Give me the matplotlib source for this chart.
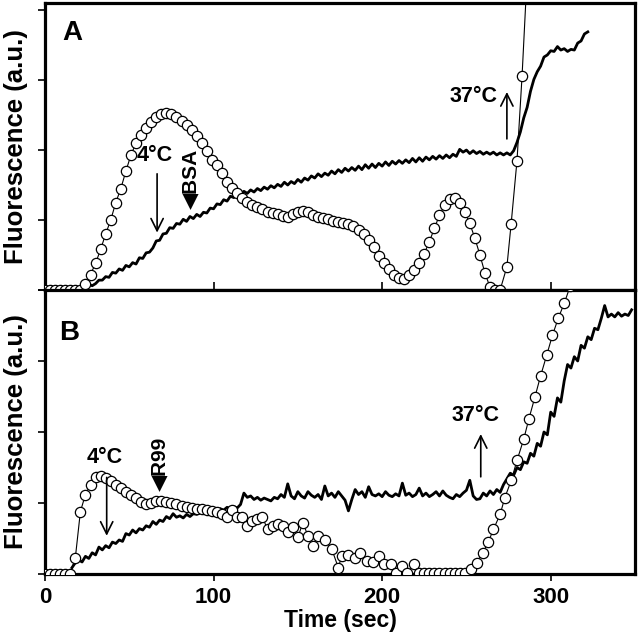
import numpy as np
import matplotlib
matplotlib.use("Agg")
import matplotlib.pyplot as plt

plt.rcParams['font.family'] = ['Liberation Sans', 'DejaVu Sans']
plt.rcParams['font.weight'] = 'bold'

# ---- panel A : open circles (time in sec, fluorescence a.u.) ----
tA_circ = [0, 3, 6, 9, 12, 15, 18, 21, 24, 27, 30, 33, 36, 39, 42, 45, 48, 51, 54, 57,
           60, 63, 66, 69, 72, 75, 78, 81, 84, 87, 90, 93, 96, 99, 102, 105, 108, 111, 114, 117,
           120, 123, 126, 129, 132, 135, 138, 141, 144, 147, 150, 153, 156, 159, 162, 165, 168, 171, 174, 177,
           180, 183, 186, 189, 192, 195, 198, 201, 204, 207, 210, 213, 216, 219, 222, 225, 228, 231, 234, 237,
           240, 243, 246, 249, 252, 255, 258, 261, 264, 267, 270, 274, 276.5, 280, 283, 286]
fA_circ = [0, 0, 0, 0, 0, 0, 0, 0, 0.08, 0.22, 0.38, 0.58, 0.80, 1.00, 1.25, 1.45, 1.70, 1.93, 2.10, 2.22,
           2.32, 2.40, 2.47, 2.51, 2.53, 2.52, 2.47, 2.41, 2.36, 2.29, 2.20, 2.10, 1.98, 1.86, 1.78, 1.67, 1.55, 1.46, 1.38, 1.31,
           1.26, 1.22, 1.18, 1.15, 1.12, 1.10, 1.08, 1.05, 1.04, 1.08, 1.12, 1.13, 1.11, 1.07, 1.04, 1.03, 1.02, 0.99, 0.97, 0.96,
           0.94, 0.91, 0.86, 0.80, 0.72, 0.61, 0.49, 0.39, 0.30, 0.21, 0.17, 0.16, 0.21, 0.28, 0.38, 0.52, 0.69, 0.88, 1.07, 1.21,
           1.30, 1.32, 1.25, 1.12, 0.95, 0.74, 0.50, 0.24, 0.04, 0.0, 0.0, 0.33, 0.94, 1.85, 3.06, 4.50]

# ---- panel A : solid trace, one reading every 2 sec starting at 20 sec ----
tA_line_start = 20
fA_line = [0.00, 0.02, 0.02, 0.08, 0.06, 0.09, 0.14, 0.14, 0.19, 0.18, 0.25, 0.24, 0.30, 0.28, 0.35, 0.33,
           0.39, 0.37, 0.46, 0.45, 0.53, 0.54, 0.60, 0.70, 0.71, 0.80, 0.81, 0.89, 0.88, 0.95, 0.94, 1.01,
           0.98, 1.05, 1.02, 1.08, 1.05, 1.11, 1.10, 1.17, 1.16, 1.23, 1.22, 1.29, 1.27, 1.34, 1.32, 1.38,
           1.36, 1.41, 1.38, 1.43, 1.40, 1.45, 1.42, 1.47, 1.44, 1.49, 1.46, 1.51, 1.48, 1.54, 1.50, 1.55,
           1.52, 1.58, 1.54, 1.60, 1.57, 1.63, 1.60, 1.66, 1.62, 1.67, 1.64, 1.70, 1.66, 1.72, 1.68, 1.74,
           1.70, 1.75, 1.71, 1.77, 1.72, 1.79, 1.74, 1.80, 1.75, 1.81, 1.77, 1.83, 1.78, 1.84, 1.80, 1.85,
           1.81, 1.86, 1.82, 1.88, 1.83, 1.89, 1.84, 1.90, 1.86, 1.91, 1.87, 1.92, 1.88, 1.93, 1.89, 1.94,
           1.91, 2.01, 1.97, 2.00, 1.95, 1.99, 1.95, 1.98, 1.94, 1.97, 1.94, 1.97, 1.93, 1.96, 1.93, 1.96,
           1.93, 1.99, 2.11, 2.26, 2.46, 2.61, 2.84, 3.01, 3.12, 3.20, 3.33, 3.36, 3.42, 3.41, 3.48, 3.43,
           3.45, 3.41, 3.44, 3.43, 3.53, 3.56, 3.66, 3.69]

# ---- panel B : open circles ----
tB_circ = [0, 3, 6, 9, 12, 15, 18, 21, 24, 27, 30, 33, 36, 39, 42, 45, 48, 51, 54, 57,
           60, 63, 66, 69, 72, 75, 78, 81, 84, 87, 90, 93, 96, 99, 102, 105, 108, 111, 114, 117,
           120, 123, 126, 129, 132, 135, 138, 141, 144, 147, 150, 153, 156, 159, 162, 166, 170, 174, 176, 180,
           184, 187, 191, 194.5, 198, 201, 205, 208, 212, 215, 219, 222, 225, 228, 231, 234, 237, 240, 243, 246,
           249, 253, 256, 259.7, 263, 266, 270, 272.7, 276.6, 280, 284, 287, 290.6, 294, 297.6, 301, 304.6, 308, 311.5]
fB_circ = [0, 0, 0, 0, 0, 0, 0.23, 0.88, 1.12, 1.26, 1.37, 1.38, 1.35, 1.31, 1.26, 1.21, 1.16, 1.12, 1.07, 1.02,
           0.98, 1.00, 1.03, 1.03, 1.02, 1.00, 0.98, 0.96, 0.94, 0.93, 0.91, 0.91, 0.90, 0.89, 0.87, 0.85, 0.81, 0.90, 0.80, 0.80,
           0.68, 0.75, 0.78, 0.80, 0.63, 0.68, 0.70, 0.68, 0.59, 0.66, 0.52, 0.72, 0.54, 0.39, 0.54, 0.48, 0.36, 0.09, 0.25, 0.27,
           0.23, 0.30, 0.18, 0.17, 0.25, 0.14, 0.14, 0.02, 0.11, 0.02, 0.14, 0.02, 0.02, 0.02, 0.02, 0.02, 0.02, 0.02, 0.02, 0.02,
           0.02, 0.07, 0.16, 0.30, 0.45, 0.63, 0.84, 1.07, 1.32, 1.60, 1.90, 2.18, 2.49, 2.79, 3.08, 3.36, 3.61, 3.81, 4.05]

# ---- panel B : solid trace, one reading every 2 sec starting at 16 sec ----
tB_line_start = 16
fB_line = [0.09, 0.16, 0.20, 0.17, 0.25, 0.22, 0.30, 0.27, 0.38, 0.34, 0.40, 0.37, 0.45, 0.43, 0.48, 0.46,
           0.57, 0.55, 0.62, 0.58, 0.64, 0.62, 0.68, 0.66, 0.74, 0.70, 0.76, 0.74, 0.81, 0.78, 0.85, 0.80,
           0.82, 0.79, 0.84, 0.81, 0.85, 0.84, 0.87, 0.85, 0.89, 0.87, 0.91, 0.89, 0.92, 0.90, 0.94, 0.92,
           0.95, 0.93, 0.98, 1.14, 1.08, 1.10, 1.05, 1.08, 1.04, 1.07, 1.05, 1.03, 1.08, 1.06, 1.12, 1.08,
           1.27, 1.10, 1.06, 1.16, 1.10, 1.07, 1.16, 1.11, 1.08, 1.12, 1.05, 1.24, 1.10, 1.14, 1.08, 1.16,
           1.10, 1.04, 0.89, 1.05, 1.19, 1.12, 1.16, 1.08, 1.23, 1.12, 1.10, 1.13, 1.09, 1.16, 1.11, 1.09,
           1.13, 1.10, 1.28, 1.11, 1.14, 1.09, 1.12, 1.21, 1.10, 1.14, 1.09, 1.12, 1.16, 1.10, 1.17, 1.11,
           1.08, 1.06, 1.12, 1.09, 1.14, 1.18, 1.32, 1.10, 1.05, 1.06, 1.14, 1.10, 1.17, 1.12, 1.19, 1.15,
           1.26, 1.34, 1.42, 1.39, 1.50, 1.47, 1.58, 1.56, 1.70, 1.66, 1.84, 1.80, 2.00, 1.96, 2.28, 2.22,
           2.48, 2.42, 2.72, 2.95, 2.90, 3.06, 3.00, 3.22, 3.18, 3.34, 3.30, 3.46, 3.44, 3.60, 3.78, 3.62,
           3.66, 3.62, 3.68, 3.63, 3.66, 3.64, 3.72]

tA_line = tA_line_start + 2 * np.arange(len(fA_line))
tB_line = tB_line_start + 2 * np.arange(len(fB_line))

fig = plt.figure(figsize=(6.4, 6.4), dpi=100)
axA = fig.add_axes([0.0703, 0.547, 0.9219, 0.448])
axB = fig.add_axes([0.0703, 0.1030, 0.9219, 0.444])

circ_kw = dict(color='black', lw=0.8, marker='o', markersize=7.4,
               markerfacecolor='white', markeredgecolor='black', markeredgewidth=0.9)

axA.plot(tA_line, fA_line, color='black', lw=2.0, zorder=2)
axA.plot(tA_circ, fA_circ, zorder=3, **circ_kw)
axB.plot(tB_line, fB_line, color='black', lw=2.0, zorder=2)
axB.plot(tB_circ, fB_circ, zorder=3, **circ_kw)

axA.set_xlim(0, 350)
axB.set_xlim(0, 350)
axA.set_ylim(0, 4.1)
axB.set_ylim(0, 3.9)

for ax in (axA, axB):
    for sp in ax.spines.values():
        sp.set_linewidth(2.3)
    ax.set_xticks([0, 100, 200, 300])
    ax.set_yticks([0, 1, 2, 3, 4])
    ax.set_yticklabels([])
    ax.tick_params(axis='y', direction='out', length=5, width=1.2)
    ax.set_ylabel('Fluorescence (a.u.)', fontsize=18.5, fontweight='bold')
    ax.yaxis.set_label_coords(-0.029, 0.5)

axA.set_xticklabels([])
axA.tick_params(axis='x', direction='inout', length=12, width=1.2)
axB.tick_params(axis='x', direction='out', length=5, width=1.2, labelsize=16, pad=4)
for lab in axB.get_xticklabels():
    lab.set_fontweight('bold')
axB.set_xlabel('Time (sec)', fontsize=16.5, fontweight='bold', labelpad=1)

arrow_kw = dict(arrowstyle='->', lw=1.2, color='black', mutation_scale=22)

# panel A annotations
axA.text(16, 3.68, 'A', fontsize=20, fontweight='bold', ha='center', va='center')
axA.text(65, 1.92, '4°C', fontsize=15.5, fontweight='bold', ha='center', va='center')
axA.annotate('', xy=(66.5, 0.78), xytext=(66.5, 1.70), arrowprops=arrow_kw)
axA.text(86.5, 1.15, '◀BSA', fontsize=15, fontweight='bold', rotation=90, ha='center', va='bottom')
axA.text(254, 2.76, '37°C', fontsize=15.5, fontweight='bold', ha='center', va='center')
axA.annotate('', xy=(274, 2.87), xytext=(274, 2.12), arrowprops=arrow_kw)

# panel B annotations
axB.text(14.2, 3.4, 'B', fontsize=20, fontweight='bold', ha='center', va='center')
axB.text(35.6, 1.64, '4°C', fontsize=15.5, fontweight='bold', ha='center', va='center')
axB.annotate('', xy=(36.6, 0.50), xytext=(36.6, 1.40), arrowprops=arrow_kw)
axB.text(68, 1.17, '◀R99', fontsize=15, fontweight='bold', rotation=90, ha='center', va='bottom')
axB.text(255.5, 2.23, '37°C', fontsize=15.5, fontweight='bold', ha='center', va='center')
axB.annotate('', xy=(258.5, 2.01), xytext=(258.5, 1.33), arrowprops=arrow_kw)

fig.savefig('out.png', dpi=100)
